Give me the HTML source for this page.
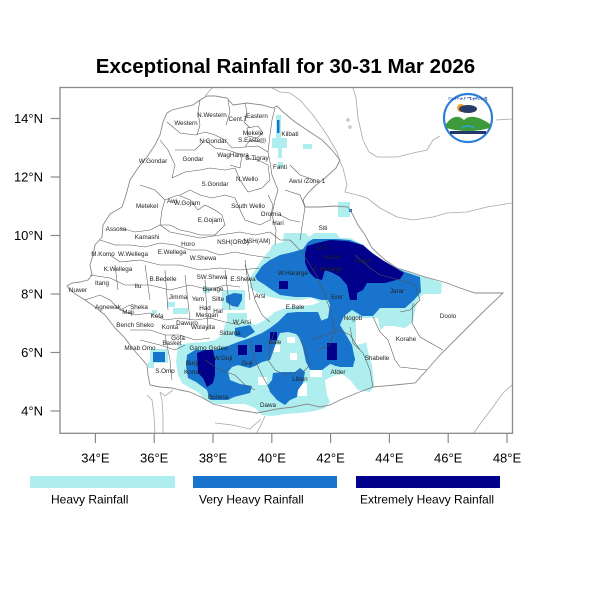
<!DOCTYPE html>
<html><head><meta charset="utf-8"><style>
html,body{margin:0;padding:0;background:#fff;}
svg{display:block;}
</style></head><body>
<svg width="600" height="600" viewBox="0 0 600 600" xmlns="http://www.w3.org/2000/svg" font-family="'Liberation Sans', Arial, sans-serif">
<rect width="600" height="600" fill="#fff"/>
<text x="285.5" y="73" font-size="20.5" font-weight="bold" text-anchor="middle" fill="#000">Exceptional Rainfall for 30-31 Mar 2026</text>
<defs><clipPath id="fr"><rect x="60" y="87.5" width="452.5" height="345.8"/></clipPath></defs>
<g clip-path="url(#fr)">
<!-- rainfall: cyan -->
<g fill="#AFEEEE" stroke="none">
<polygon points="250,278 257,267 263,258 270,250 272,245 283,242 284,233 306,233 309,237 314,233 336,233 340,238 350,238 362,244 372,252 382,260 395,267 410,272 423,276 432,279 442,283 441,294 423,294 418,300 415,310 413,322 405,328 393,326 385,326 380,330 372,332 366,340 368,352 372,365 374,385 370,391 360,390 352,382 345,373 318,370 300,367 295,360 300,345 297,335 290,332 285,320 290,310 300,306 312,305 320,302 312,298 300,300 285,300 270,297 258,293 250,288"/>
<polygon points="178,345 190,343 205,342 215,340 222,335 225,325 230,316 240,315 245,320 255,325 265,320 275,312 285,308 300,306 318,306 330,312 340,318 352,326 360,335 365,348 372,365 374,385 370,392 358,390 350,380 342,374 333,376 325,380 327,395 330,402 325,408 315,411 300,413 285,414 272,416 262,415 255,408 245,404 230,404 215,404 205,400 198,392 190,388 182,383 178,375 176,362"/>
<rect x="276" y="115" width="5" height="33"/><rect x="272" y="138" width="15" height="10"/><rect x="278" y="148" width="4" height="10"/>
<rect x="303" y="144" width="9" height="5"/><rect x="278" y="162" width="5" height="6"/>
<rect x="338" y="202" width="12" height="15"/>
<rect x="167" y="302" width="8" height="5"/><rect x="173" y="308" width="15" height="6"/><rect x="203" y="287" width="7" height="6"/>
<rect x="152" y="310" width="5" height="4"/><rect x="150" y="349" width="18" height="14"/><rect x="148" y="362" width="6" height="6"/>
<rect x="222" y="290" width="23" height="20"/>
<rect x="227" y="313" width="20" height="20"/>
</g>
<!-- white holes -->
<g fill="#fff">
<polygon points="356,318 378,318 380,330 372,335 365,343 356,345"/>
<rect x="270" y="345" width="10" height="7"/><rect x="287" y="337" width="8" height="6"/><rect x="290" y="353" width="7" height="7"/>
<rect x="297" y="383" width="10" height="13"/><rect x="310" y="363" width="12" height="14"/>
<rect x="258" y="377" width="9" height="8"/><rect x="313" y="288" width="7" height="7"/>
</g>
<!-- rainfall: blue -->
<g fill="#1874CD">
<polygon points="255,276 258,272 262,266 270,260 280,255 293,252 303,249 308,242 313,239 337,239 350,240 360,244 370,252 380,260 393,267 405,272 420,277 421,292 414,300 405,308 380,308 373,316 362,316 352,310 344,316 340,325 345,333 352,345 355,360 352,367 335,366 328,360 325,340 322,328 318,322 328,318 330,305 328,300 322,300 310,297 295,297 280,295 272,290 265,285 257,280"/>
<polygon points="287,313 297,312 318,312 322,322 330,330 340,335 348,345 355,358 353,367 340,367 330,364 322,370 310,370 306,362 303,348 300,338 296,334 288,332 280,333 277,340 273,352 270,360 262,362 255,366 250,368 245,367 238,365 232,367 228,372 230,380 240,384 252,386 250,393 234,397 228,400 210,400 207,390 196,382 188,378 186,366 187,355 195,350 205,350 215,350 228,346 238,342 250,338 262,333 270,328 278,322"/>
<polygon points="273,373 283,372 295,372 300,368 305,372 303,383 298,390 297,397 290,400 285,405 277,400 270,392 268,385 272,380"/>
<polygon points="226,296 234,293 242,294 242,300 238,307 232,306 226,302"/>
<polygon points="235,328 250,325 255,332 245,338 235,336"/>
<rect x="153" y="352" width="12" height="10"/>
<rect x="277" y="120" width="2.5" height="13"/>
<rect x="349" y="209" width="3" height="3"/>
</g>
<!-- rainfall: navy -->
<g fill="#00008B">
<polygon points="305,262 305,253 307,246 317,243 330,240 347,241 363,245 372,253 384,261 396,268 404,273 400,279 385,283 367,283 363,290 357,293 357,300 350,300 348,290 347,285 340,277 333,273 325,270 322,280 315,278 310,273 307,268"/>
<rect x="279" y="281" width="9" height="8"/>
<polygon points="197,353 205,350 213,350 215,360 215,375 213,383 207,387 203,378 198,373"/>
<rect x="238" y="345" width="9" height="10"/><rect x="255" y="345" width="7" height="7"/><rect x="270" y="332" width="7" height="8"/>
<rect x="327" y="343" width="10" height="17"/>
</g>
<!-- neighbour boundaries / coasts -->
<g fill="none" stroke="#a8a8a8" stroke-width="0.8">
<polyline points="272,88 280,92 290,93 300,100 313,115 327,135 337,152 340,162 343,168 347,185 345,192 357,195 367,198 380,208 397,217 413,220 433,217 447,213 467,212 487,207 512,203"/>
<polyline points="353,88 356,98 358,118 363,140 369,152 377,157 397,157 413,153 427,150 433,140 440,136"/>
<polyline points="496,120 512,119"/>
<circle cx="348" cy="120" r="1.2"/><circle cx="350" cy="127" r="1.2"/>
<polyline points="512,385 503,393 493,407 483,420 473,434"/>
<polyline points="147,395 152,400 154,415 155,434"/>
<polyline points="160,392 162,400 163,415 163,434"/>
<polyline points="173,390 165,396 160,392"/>
<polyline points="215,423 232,425 250,429 261,419"/>
<polyline points="265,416 261,425 256,434"/>
<polyline points="212,88 205,96"/>
</g>
<!-- Ethiopia outline -->
<polygon fill="none" stroke="#8a8a8a" stroke-width="0.9" points="167,113 172,110 180,108 193,105 200,100 207,96 215,96 227,98 233,105 247,103 262,105 273,108 277,106 283,112 295,122 310,132 322,140 332,150 340,160 336,168 325,178 315,186 308,193 303,200 305,207 320,207 335,206 348,207 353,215 358,225 365,235 372,248 385,260 397,268 410,272 425,277 440,281 447,283 460,288 475,293 503,293 480,315 460,335 440,355 425,372 415,383 395,385 373,387 357,393 340,400 330,405 320,407 307,404 293,407 277,409 267,411 257,413 245,411 237,410 225,407 213,404 203,398 190,392 180,390 172,388 160,387 150,385 148,375 147,365 140,357 132,348 125,338 115,328 105,315 95,307 85,300 77,295 70,290 67,286 72,283 80,282 88,280 92,275 90,265 93,255 95,245 102,237 103,225 110,214 122,207 126,195 130,180 138,168 147,157 155,145 160,135 163,122"/>
<!-- admin lines -->
<g fill="none" stroke="#555" stroke-width="0.55">
<polyline points="200,100 198,112 200,125 197,135"/>
<polyline points="228,100 230,112 226,125"/>
<polyline points="245,103 247,112 244,122 250,128"/>
<polygon points="247,128 258,126 263,133 257,138 248,136"/>
<polyline points="167,122 180,133 195,135 205,132 215,135 225,140 232,148 245,147 258,146 268,152"/>
<polyline points="275,108 272,120 270,135 268,152 270,162"/>
<polyline points="245,147 250,140 265,143"/>
<polyline points="160,140 168,150 175,165 172,178"/>
<polyline points="175,150 195,150 205,140 215,148 228,150"/>
<polyline points="172,178 185,172 200,170 210,168 225,170 235,168"/>
<polyline points="228,150 242,155 240,168 230,165"/>
<polyline points="235,168 240,180 248,192 262,188 270,180 268,165 258,160 245,158"/>
<polyline points="180,195 190,190 200,195 212,198 225,195 235,198"/>
<polyline points="235,198 240,210 245,220 260,225 270,220 273,205 268,195"/>
<polyline points="270,162 272,175 278,190 275,200 272,215 276,230 275,245"/>
<polyline points="140,185 155,190 165,200 162,210 160,225 150,230 135,232 120,228"/>
<polyline points="165,200 178,195 190,200 198,210 205,205 215,210 222,215 225,225 215,235 200,235 190,232 180,230 170,225 160,225"/>
<polyline points="160,225 170,232 185,235 200,238 220,235 240,232 255,235 270,232"/>
<polyline points="100,240 115,245 130,245 145,247 160,243 175,245 190,250 205,250 220,255 235,252 250,255 270,258"/>
<polyline points="110,255 120,262 140,260 160,265 180,265 200,270 220,268 240,270 260,268"/>
<polyline points="90,275 110,278 125,285 150,285 170,290 190,285 210,290 225,285 240,287"/>
<polyline points="85,300 100,295 110,300 120,310 130,305"/>
<polyline points="120,310 135,315 150,313 165,320 180,318 195,320 210,318 225,322 240,325"/>
<polyline points="130,330 150,330 165,335 180,335 195,340 210,338"/>
<polyline points="115,265 118,290"/><polyline points="145,265 150,300"/><polyline points="165,270 168,310"/>
<polyline points="185,275 190,320"/><polyline points="205,280 208,330"/><polyline points="225,270 230,310"/><polyline points="245,260 250,300"/>
<polyline points="140,340 160,345 175,350 185,345"/><polyline points="165,335 170,360 172,380"/>
<polyline points="205,360 220,370 235,375 245,385 255,390"/>
<polyline points="250,340 255,360 262,375 270,390"/>
<polyline points="275,330 270,345 268,360 275,370 285,375 298,372"/>
<polyline points="298,335 305,350 310,365 300,375"/>
<polyline points="310,340 325,335 340,330 350,335 360,350"/>
<polyline points="318,280 325,295 330,310 335,330 330,345 318,350"/>
<polyline points="245,265 250,280 255,300 262,315 270,322"/>
<polyline points="290,240 300,250 310,265 318,278"/>
<polyline points="300,240 305,207"/>
<polyline points="355,255 370,268 380,275 400,280 415,285"/>
<polyline points="415,285 420,300 410,310 400,312"/>
<polyline points="373,317 380,332 388,340 395,360 400,367 427,370"/>
<polyline points="413,303 412,323 420,337 443,350"/>
<polyline points="350,327 353,343 363,353 370,370 373,387"/>
<polyline points="290,165 300,175 315,180"/>
<polyline points="285,190 300,195 305,207"/>
<polyline points="280,215 290,220 300,222"/>
<polyline points="270,232 280,240 290,240"/>
</g>
<!-- labels -->
<g font-size="6.3" fill="#222" text-anchor="middle">
<text x="186" y="125">Western</text><text x="212" y="117">N.Western</text><text x="238" y="121">Cent.T</text><text x="257" y="118">Eastern</text>
<text x="253" y="135">Mekele</text><text x="252" y="142">S.Eastern</text><text x="290" y="136">Kilbati</text>
<text x="213" y="143">N.Gondar</text><text x="233" y="157">WagHamra</text><text x="257" y="160">S.Tigray</text>
<text x="153" y="163">W.Gondar</text><text x="193" y="161">Gondar</text><text x="280" y="169">Fanti</text>
<text x="307" y="183">Awsi /Zone 1</text><text x="215" y="186">S.Gondar</text><text x="247" y="181">N.Wello</text>
<text x="147" y="208">Metekel</text><text x="172" y="203">Awi</text><text x="187" y="205">W.Gojam</text>
<text x="248" y="208">South Wello</text><text x="271" y="216">Oromia</text><text x="210" y="222">E.Gojam</text><text x="278" y="225">Hari</text>
<text x="116" y="231">Assosa</text><text x="147" y="239">Kamashi</text><text x="188" y="246">Horo</text>
<text x="233" y="244">NSH(ORO)</text><text x="257" y="243">NSH(AM)</text>
<text x="103" y="256">M.Komo</text><text x="133" y="256">W.Wellega</text><text x="172" y="254">E.Wellega</text><text x="203" y="260">W.Shewa</text>
<text x="323" y="230">Siti</text><text x="323" y="249">D.D.</text><text x="332" y="259">Harari</text><text x="363" y="263">Fafan</text>
<text x="293" y="275">W.Hararge</text><text x="328" y="271">E.Hararge</text>
<text x="118" y="271">K.Wellega</text><text x="102" y="285">Itang</text><text x="78" y="292">Nuwer</text>
<text x="163" y="281">B.Bedelle</text><text x="138" y="288">Ilu</text><text x="212" y="279">SW.Shewa</text><text x="243" y="281">E.Shewa</text>
<text x="213" y="291">Gurage</text><text x="178" y="299">Jimma</text><text x="198" y="301">Yem</text><text x="218" y="301">Silte</text>
<text x="260" y="298">Arsi</text><text x="337" y="299">Erer</text><text x="397" y="293">Jarar</text><text x="448" y="318">Doolo</text>
<text x="108" y="309">Agnewak</text><text x="139" y="309">Sheka</text><text x="128" y="314">Maji</text><text x="157" y="318">Kefa</text>
<text x="205" y="310">Had</text><text x="218" y="313">Hal</text><text x="207" y="317">Mesqan</text>
<text x="295" y="309">E.Bale</text><text x="353" y="320">Nogob</text><text x="242" y="324">W.Arsi</text>
<text x="135" y="327">Bench Sheko</text><text x="170" y="329">Konta</text><text x="187" y="325">Dawuro</text><text x="203" y="329">Wolayita</text>
<text x="230" y="335">Sidama</text><text x="406" y="341">Korahe</text><text x="275" y="344">Bale</text>
<text x="140" y="350">Mirab Omo</text><text x="172" y="345">Basket</text><text x="178" y="340">Gofa</text>
<text x="198" y="350">Gamo</text><text x="218" y="350">Gedeo</text><text x="223" y="360">W.Guji</text>
<text x="377" y="360">Shabelle</text><text x="192" y="365">Burji</text><text x="247" y="365">Guji</text>
<text x="165" y="373">S.Omo</text><text x="193" y="374">Konso</text><text x="338" y="374">Afder</text><text x="300" y="381">Liban</text>
<text x="218" y="399">Borena</text><text x="268" y="407">Dawa</text>
</g>
</g>
<!-- logo -->
<g>
<circle cx="468" cy="118" r="24" fill="#fff" stroke="#2f7fd6" stroke-width="2.2"/>
<path d="M446,124 Q455,112 464,120 Q472,112 490,124 L490,128 Q468,134 446,128 Z" fill="#3d9a3a"/>
<path d="M462,128 Q468,124 474,128" stroke="#2aa6d8" stroke-width="1.5" fill="none"/>
<circle cx="461" cy="108" r="4" fill="#f2a22a"/>
<ellipse cx="468" cy="109" rx="9" ry="4" fill="#2a3d6a"/>
<rect x="450" y="131" width="36" height="3" fill="#22386b"/>
<text x="468" y="100" font-size="4.5" fill="#1c4fa8" text-anchor="middle">የኢትዮጵያ ሜቲዎሮሎጂ</text>
</g>
<!-- frame -->
<rect x="60" y="87.5" width="452.5" height="345.8" fill="none" stroke="#8a8a8a" stroke-width="1.3"/>
<!-- ticks -->
<g stroke="#8a8a8a" stroke-width="1.2">
<line x1="50.5" y1="411" x2="60" y2="411"/><line x1="50.5" y1="352.5" x2="60" y2="352.5"/><line x1="50.5" y1="294" x2="60" y2="294"/>
<line x1="50.5" y1="235.5" x2="60" y2="235.5"/><line x1="50.5" y1="177" x2="60" y2="177"/><line x1="50.5" y1="118.5" x2="60" y2="118.5"/>
<line x1="95.4" y1="433.3" x2="95.4" y2="443"/><line x1="154.2" y1="433.3" x2="154.2" y2="443"/><line x1="213" y1="433.3" x2="213" y2="443"/>
<line x1="271.8" y1="433.3" x2="271.8" y2="443"/><line x1="330.6" y1="433.3" x2="330.6" y2="443"/><line x1="389.4" y1="433.3" x2="389.4" y2="443"/>
<line x1="448.2" y1="433.3" x2="448.2" y2="443"/><line x1="507" y1="433.3" x2="507" y2="443"/>
</g>
<g font-size="13" fill="#000" text-anchor="end">
<text x="43" y="415.7">4°N</text><text x="43" y="357.2">6°N</text><text x="43" y="298.7">8°N</text>
<text x="43" y="240.2">10°N</text><text x="43" y="181.7">12°N</text><text x="43" y="123.2">14°N</text>
</g>
<g font-size="13" fill="#000" text-anchor="middle">
<text x="95.4" y="462.5">34°E</text><text x="154.2" y="462.5">36°E</text><text x="213" y="462.5">38°E</text><text x="271.8" y="462.5">40°E</text>
<text x="330.6" y="462.5">42°E</text><text x="389.4" y="462.5">44°E</text><text x="448.2" y="462.5">46°E</text><text x="507" y="462.5">48°E</text>
</g>
<!-- legend -->
<rect x="30" y="476" width="145" height="12" fill="#AFEEEE"/>
<rect x="193" y="476" width="144" height="12" fill="#1874CD"/>
<rect x="356" y="476" width="144" height="12" fill="#00008B"/>
<g font-size="12" fill="#000">
<text x="51" y="503.5">Heavy Rainfall</text>
<text x="199" y="503.5">Very Heavy Rainfall</text>
<text x="360" y="503.5">Extremely Heavy Rainfall</text>
</g>
</svg>
</body></html>
